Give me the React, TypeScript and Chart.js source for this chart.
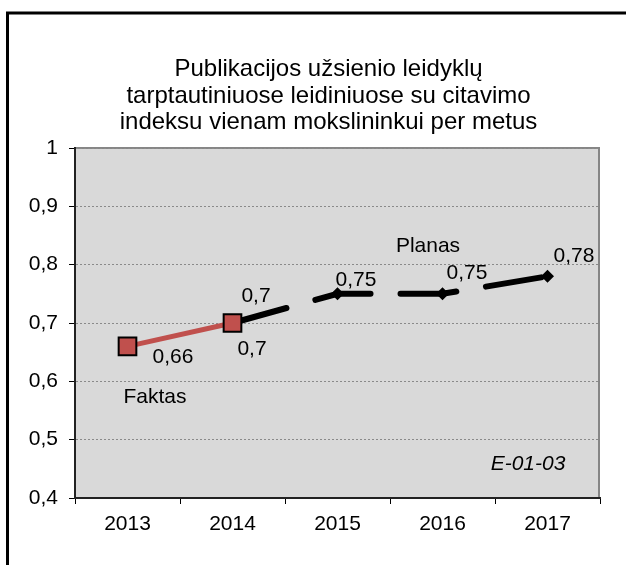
import React, { useEffect, useRef } from "react";
import { Chart, registerables } from "chart.js";

Chart.register(...registerables);

const years = ["2013", "2014", "2015", "2016", "2017"];
const faktas: (number | null)[] = [0.66, 0.7, null, null, null];
const planas: (number | null)[] = [null, 0.7, 0.75, 0.75, 0.78];
const yTickValues = [0.4, 0.5, 0.6, 0.7, 0.8, 0.9, 1];
const titleLines = [
  "Publikacijos užsienio leidyklų",
  "tarptautiniuose leidiniuose su citavimo",
  "indeksu vienam mokslininkui per metus",
];
const seriesNames = ["Faktas", "Planas"];
const codeLabel = "E-01-03";

// label offsets (style only): [dx, dy to baseline]
const faktasLabelOffsets = [[45.5, 16.5], [19.5, 32], [0, 0], [0, 0], [0, 0]];
const planasLabelOffsets = [[0, 0], [23.5, -21.3], [18.5, -7.5], [24.5, -15], [26.5, -14.4]];

const FONT = '"Liberation Sans", Arial, sans-serif';
const fmt = (v: number) => String(Math.round(v * 100) / 100).replace(".", ",");

const decorPlugin = {
  id: "decor",
  beforeDraw(chart: any) {
    const { ctx, chartArea: a } = chart;
    ctx.save();
    ctx.fillStyle = "#d9d9d9";
    ctx.fillRect(a.left, a.top, a.right - a.left, a.bottom - a.top);
    ctx.strokeStyle = "#868686";
    ctx.lineWidth = 2;
    ctx.beginPath();
    ctx.moveTo(a.left, a.top);
    ctx.lineTo(a.right - 1, a.top);
    ctx.lineTo(a.right - 1, a.bottom);
    ctx.stroke();
    // outer frame
    ctx.strokeStyle = "#000";
    ctx.lineWidth = 3;
    ctx.beginPath();
    ctx.moveTo(7.5, 700);
    ctx.lineTo(7.5, 13);
    ctx.lineTo(700, 13);
    ctx.stroke();
    // title
    ctx.fillStyle = "#000";
    ctx.font = `24px ${FONT}`;
    ctx.textAlign = "center";
    ctx.textBaseline = "alphabetic";
    titleLines.forEach((t, i) => ctx.fillText(t, 328.5, 76 + i * 26.5));
    ctx.restore();
  },
  afterDatasetsDraw(chart: any) {
    const { ctx, chartArea: a, scales } = chart;
    const x = scales.x;
    const y = scales.y;
    ctx.save();
    ctx.fillStyle = "#000";
    ctx.font = `21px ${FONT}`;
    ctx.textAlign = "center";
    ctx.textBaseline = "alphabetic";
    faktas.forEach((v, i) => {
      if (v == null) return;
      const [dx, dy] = faktasLabelOffsets[i];
      ctx.fillText(fmt(v), x.getPixelForValue(i) + dx, y.getPixelForValue(v) + dy);
    });
    planas.forEach((v, i) => {
      if (v == null) return;
      const [dx, dy] = planasLabelOffsets[i];
      ctx.fillText(fmt(v), x.getPixelForValue(i) + dx, y.getPixelForValue(v) + dy);
    });
    // series name annotations
    ctx.fillText(seriesNames[0], x.getPixelForValue(0) + 27.5, 402.7);
    ctx.fillText(seriesNames[1], x.getPixelForValue(2) + 90.5, 251.7);
    ctx.font = `italic 21px ${FONT}`;
    ctx.fillText(codeLabel, a.right - 72, 470);
    ctx.restore();
  },
};

export default function App() {
  const ref = useRef<HTMLCanvasElement | null>(null);
  useEffect(() => {
    if (!ref.current) return;
    Chart.defaults.font.family = FONT;
    const chart = new Chart(ref.current, {
      type: "line",
      data: {
        labels: years,
        datasets: [
          {
            label: seriesNames[0],
            data: faktas,
            borderColor: "#c0504d",
            borderWidth: 5,
            pointStyle: "rect",
            pointRadius: 12.5,
            pointBackgroundColor: "#c0504d",
            pointBorderColor: "#000",
            pointBorderWidth: 2,
            spanGaps: false,
            tension: 0,
          },
          {
            label: seriesNames[1],
            data: planas,
            borderColor: "#000",
            borderWidth: 6,
            borderDash: [56, 30],
            borderCapStyle: "round",
            pointStyle: "rectRot",
            pointRadius: 6.5,
            pointBackgroundColor: "#000",
            pointBorderColor: "#000",
            pointBorderWidth: 0,
            tension: 0,
          },
        ],
      },
      options: {
        responsive: false,
        animation: false,
        devicePixelRatio: 1,
        layout: { padding: { top: 148, right: 26, left: 0, bottom: 0 } },
        plugins: {
          legend: { display: false },
          title: { display: false },
          tooltip: { enabled: false },
        },
        scales: {
          x: {
            offset: true,
            afterFit: (s: any) => {
              s.height = 67;
            },
            grid: {
              display: true,
              offset: true,
              drawOnChartArea: false,
              drawTicks: true,
              tickLength: 6,
              tickColor: "#000",
              color: "#000",
              lineWidth: 1,
            },
            border: { display: true, color: "#222", width: 2 },
            ticks: {
              color: "#000",
              font: { size: 21, family: FONT },
              padding: 8,
              maxRotation: 0,
            },
          },
          y: {
            min: 0.4,
            max: 1,
            afterFit: (s: any) => {
              s.width = 75;
            },
            afterBuildTicks: (s: any) => {
              s.ticks = yTickValues.map((v) => ({ value: v }));
            },
            grid: {
              display: true,
              drawOnChartArea: true,
              drawTicks: true,
              tickLength: 6,
              color: "#8a8a8a",
              lineWidth: 1,
              tickColor: "#000",
              tickBorderDash: [],
            },
            border: { display: true, color: "#222", width: 2, dash: [2, 2] },
            ticks: {
              color: "#000",
              font: { size: 21, family: FONT },
              padding: 11,
              callback: (v: any) => fmt(Number(v)),
            },
          },
        },
      },
      plugins: [decorPlugin],
    });
    return () => chart.destroy();
  }, []);
  return (
    <div style={{ position: "absolute", left: 0, top: 0, width: 626, height: 565, background: "#fff" }}>
      <canvas ref={ref} width={626} height={565} style={{ display: "block" }} />
    </div>
  );
}
